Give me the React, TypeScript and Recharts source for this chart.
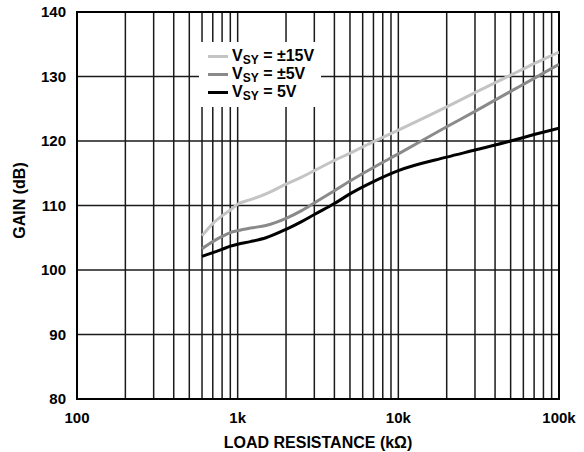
import React from "react";
import {
  LineChart,
  Line,
  XAxis,
  YAxis,
  CartesianGrid,
  ReferenceArea,
} from "recharts";

// load resistance (ohms)
const resistance = [600, 700, 800, 900, 1000, 1200, 1500, 2000, 2500, 3000, 4000, 5000, 7000, 10000, 20000, 30000, 50000, 70000, 100000];

// gain (dB) per supply
const gainPm15 = [105.3, 107.2, 108.4, 109.3, 110.2, 110.9, 111.8, 113.3, 114.4, 115.4, 117.0, 118.1, 119.9, 121.7, 125.3, 127.5, 130.2, 132.0, 133.8];
const gainPm5 = [103.3, 104.4, 105.2, 105.8, 106.1, 106.5, 106.9, 108.0, 109.2, 110.4, 112.3, 113.8, 115.9, 118.0, 122.2, 124.6, 127.7, 129.7, 131.9];
const gain5 = [102.1, 102.7, 103.2, 103.7, 104.0, 104.4, 105.0, 106.3, 107.5, 108.6, 110.3, 111.8, 113.7, 115.4, 117.5, 118.6, 120.0, 121.0, 122.0];

const xTicks = [
  100, 200, 300, 400, 500, 600, 700, 800, 900,
  1000, 2000, 3000, 4000, 5000, 6000, 7000, 8000, 9000,
  10000, 20000, 30000, 40000, 50000, 60000, 70000, 80000, 90000,
  100000,
];
const xTickLabels: Record<number, string> = { 100: "100", 1000: "1k", 10000: "10k", 100000: "100k" };
const yTicks = [80, 90, 100, 110, 120, 130, 140];

const series = [
  { key: "pm15", label: "±15V", color: "#c4c4c4" },
  { key: "pm5", label: "±5V", color: "#8a8a8a" },
  { key: "v5", label: "5V", color: "#000000" },
];

const data = resistance.map((r, i) => ({
  r,
  pm15: gainPm15[i],
  pm5: gainPm5[i],
  v5: gain5[i],
}));

const font = "'Liberation Sans', Arial, Helvetica, sans-serif";
const tickStyle = { fill: "#000", fontSize: 15, fontWeight: 700, fontFamily: font };
const titleStyle = { ...tickStyle, fontSize: 16, textAnchor: "middle" as const };

// legend sits over the grid with a white box, like the datasheet plot
function LegendBox() {
  return (
    <div
      style={{
        position: "absolute",
        left: 199,
        top: 42,
        width: 122,
        background: "#fff",
        padding: "5px 0 6px 9px",
        boxSizing: "border-box",
        fontFamily: font,
        fontWeight: 700,
        fontSize: 16,
        color: "#000",
      }}
    >
      {series.map((s) => (
        <div key={s.key} style={{ display: "flex", alignItems: "center", height: 18 }}>
          <span style={{ width: 20, height: 3, background: s.color, marginRight: 4 }} />
          <span style={{ whiteSpace: "nowrap", lineHeight: "18px" }}>
            V<sub style={{ fontSize: 12, verticalAlign: "-3px", lineHeight: 0 }}>SY</sub> = {s.label}
          </span>
        </div>
      ))}
    </div>
  );
}

export default function App() {
  return (
    <div style={{ position: "absolute", left: 0, top: 0, width: 584, height: 452, background: "#fff" }}>
      <LineChart
        width={584}
        height={452}
        data={data}
        margin={{ top: 12, right: 25, bottom: 0, left: 0 }}
      >
        <CartesianGrid stroke="#1a1a1a" strokeWidth={1.5} />
        <XAxis
          dataKey="r"
          type="number"
          scale="log"
          domain={[100, 100000]}
          ticks={xTicks}
          interval={0}
          tickFormatter={(v) => xTickLabels[v] ?? ""}
          tickLine={false}
          axisLine={false}
          tickMargin={7}
          tick={tickStyle}
          height={53}
          allowDataOverflow
          label={{
            value: "LOAD RESISTANCE (kΩ)",
            position: "insideBottom",
            offset: 4,
            style: titleStyle,
          }}
        />
        <YAxis
          type="number"
          domain={[80, 140]}
          ticks={yTicks}
          interval={0}
          tickLine={false}
          axisLine={false}
          tickMargin={5}
          tick={tickStyle}
          width={77}
          label={{
            value: "GAIN (dB)",
            angle: -90,
            position: "insideLeft",
            offset: 19,
            dy: -5,
            style: titleStyle,
          }}
        />
        <ReferenceArea
          x1={100}
          x2={100000}
          y1={80}
          y2={140}
          fill="none"
          stroke="#000"
          strokeWidth={2}
          ifOverflow="visible"
        />
        {series.map((s) => (
          <Line
            key={s.key}
            dataKey={s.key}
            type="monotone"
            stroke={s.color}
            strokeWidth={3}
            dot={false}
            isAnimationActive={false}
          />
        ))}
      </LineChart>
      <LegendBox />
    </div>
  );
}
